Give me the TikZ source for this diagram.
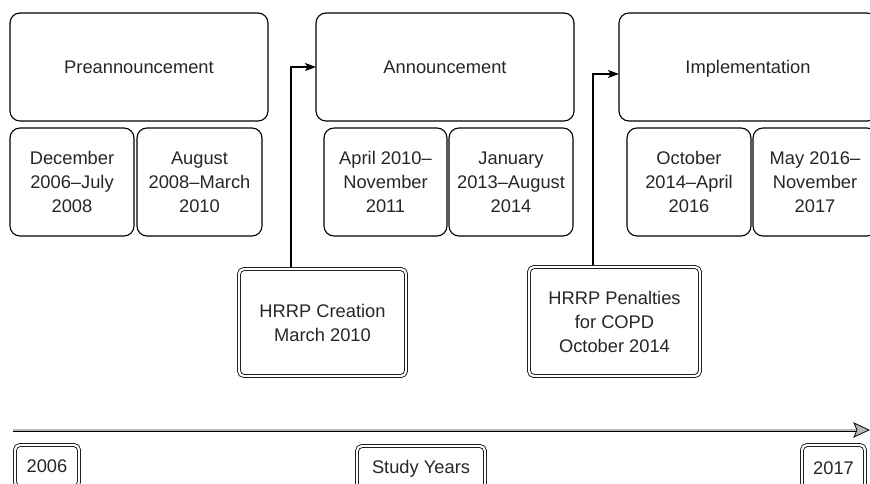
\documentclass[tikz,border=0pt]{standalone}
\usepackage{fontspec}
\setmainfont{Liberation Sans}
\usetikzlibrary{arrows.meta}
\newcommand{\fsz}{\fontsize{18.3pt}{24pt}\selectfont}
\begin{document}
\begin{tikzpicture}[x=1pt,y=-1pt,
  box/.style={draw, rounded corners=10pt, line width=1.1pt, align=center, font=\fsz, text=black!85, inner sep=0pt, outer sep=0pt},
  dbox/.style={draw, double, double distance=2.2pt, line width=0.8pt, rounded corners=5pt, align=center, font=\fsz, text=black!85, inner sep=0pt, outer sep=1.9pt},
  arr/.style={line width=1.1pt, -{Stealth[length=11pt,width=8pt,inset=2.5pt]}}]
\useasboundingbox (0,0) rectangle (870,484);
\clip (0,0) rectangle (870,484);
% phase boxes
\node[box, minimum width=258pt, minimum height=108pt] (pre) at (139,67) {Preannouncement};
\node[box, minimum width=124pt, minimum height=108pt] (dec) at (72,182) {December\\2006–July\\2008};
\node[box, minimum width=125pt, minimum height=108pt] (aug) at (199.5,182) {August\\2008–March\\2010};
\node[box, minimum width=258pt, minimum height=108pt] (ann) at (445,67) {Announcement};
\node[box, minimum width=123pt, minimum height=108pt] (apr) at (385.5,182) {April 2010–\\November\\2011};
\node[box, minimum width=124pt, minimum height=108pt] (jan) at (511,182) {January\\2013–August\\2014};
\node[box, minimum width=258pt, minimum height=108pt, text depth=0pt] (imp) at (748,67) {Implementation};
\node[box, minimum width=124pt, minimum height=108pt] (oct) at (689,182) {October\\2014–April\\2016};
\node[box, minimum width=124pt, minimum height=108pt] (may) at (815,182) {May 2016–\\November\\2017};
% events
\node[dbox, minimum width=167pt, minimum height=107pt] (hc) at (322.5,322.5) {HRRP Creation\\March 2010};
\node[dbox, minimum width=171pt, minimum height=109pt] (hp) at (614.5,321.5) {HRRP Penalties\\for COPD\\October 2014};
\draw[arr] ([xshift=-31.5pt]hc.north) |- (ann.west);
\draw[arr] ([xshift=-21.5pt]hp.north) |- ([yshift=-7pt]imp.west);
% timeline
\coordinate (t0) at (13,430);
\coordinate (t1) at (857,430);
\draw[line width=0.8pt, double=gray!55, double distance=1.4pt] (t0) -- (t1);
\filldraw[fill=gray!55, line width=0.8pt, line join=miter] (854,423) -- (869,430) -- (854,437) -- (857,430) -- cycle;
\node[dbox, minimum width=64pt, minimum height=42pt] (y0) at (47,466) {2006};
\node[dbox, minimum width=128pt, minimum height=46pt] (sy) at (421,469) {Study Years};
\node[dbox, minimum width=63pt, minimum height=46pt] (y1) at (833.5,468) {2017};
\end{tikzpicture}
\end{document}
